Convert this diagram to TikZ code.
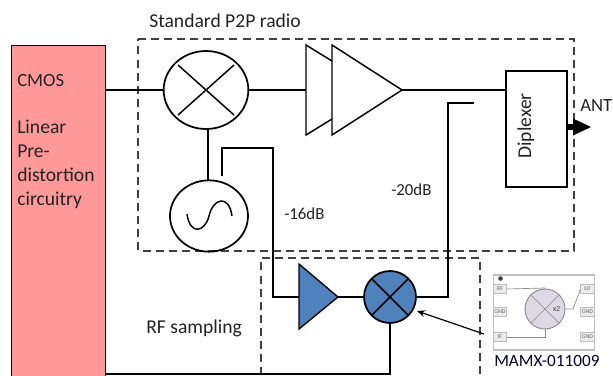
\documentclass[tikz,border=0pt]{standalone}
\usepackage{fontspec}
\setmainfont{Carlito}
\usetikzlibrary{shapes.geometric,arrows.meta}
\definecolor{txt}{HTML}{222222}
\definecolor{redbox}{HTML}{FF9999}
\definecolor{blueblk}{HTML}{4F81BD}
\definecolor{chipgray}{HTML}{BFBFBF}
\definecolor{chipfill}{HTML}{DDD8E4}
\definecolor{chipline}{HTML}{8C8C8C}
\tikzset{
  x=0.75pt,y=-0.75pt,
  wire/.style={draw=black,line width=1.5pt},
  thinw/.style={draw=black,line width=1.1pt},
  dashbox/.style={draw=black!75,line width=1.3pt,dash pattern=on 6pt off 3.8pt},
  lbl/.style={text=txt,font=\fontsize{14.7}{16}\selectfont,inner sep=0pt},
  lleft/.style={lbl,anchor=west},
  dblbl/.style={lleft,font=\fontsize{12.6}{14}\selectfont},
  mixer/.style={ellipse,draw=black,line width=1.3pt,inner sep=0pt},
  pad/.style={draw=chipgray,fill=black!8,line width=0.6pt,minimum width=10pt,minimum height=7pt,inner sep=0pt,text=black!60,font=\fontsize{4.4}{5}\selectfont},
  chipw/.style={draw=chipline,line width=0.5pt},
}
\begin{document}
\begin{tikzpicture}
\useasboundingbox (0,0) rectangle (613,375);
% left block
\node[draw=black,fill=redbox,line width=1pt,minimum width=70.5pt,minimum height=248pt,inner sep=0pt,anchor=north west] (cmos) at (11,45) {};
\node[lleft,font=\fontsize{14}{16}\selectfont] (tcmos) at (17,81) {CMOS};
\node[lleft] (t1) at (17,127) {Linear};
\node[lleft] (t2) at (17,151) {Pre-};
\node[lleft] (t3) at (17,175) {distortion};
\node[lleft] (t4) at (17,200) {circuitry};
% dashed regions
\draw[dashbox] (138,39) -- (574,39) -- (574,251) -- (138,251) -- cycle;
\draw[dashbox] (261,375) -- (261,258) -- (480,258) -- (480,375);
\node[lleft] (tstd) at (149,21) {Standard P2P radio};
\node[lleft] (trf) at (146,328) {RF sampling};
\node[dblbl] (t16) at (284,214) {-16dB};
\node[dblbl] (t20) at (391,190) {-20dB};
% mixer
\node[mixer,minimum width=63.5pt,minimum height=58.5pt] (mix) at (206,90) {};
\draw[thinw] (178,65) -- (234,115) (178,115) -- (234,65);
% oscillator
\node[mixer,minimum width=58.5pt,minimum height=53.5pt] (osc) at (209,216) {};
\draw[thinw] (187,214) .. controls (190,236) and (205,232) .. (209,216) .. controls (213,198) and (229,194) .. (232,216);
% PA pair
\coordinate (painb) at (306,90);
\coordinate (patip) at (402,90);
\draw[thinw,line join=miter] (332,61) -- (306,45) -- (306,135) -- (332,119);
\draw[thinw,line join=miter] (332,45) -- (402,90) -- (332,135) -- cycle;
% diplexer
\node[draw=black,line width=1.1pt,minimum width=45.5pt,minimum height=87pt,inner sep=0pt] (dip) at (536.5,129) {};
\node[lbl,rotate=90] (tdip) at (526,126) {Diplexer};
\coordinate (dipin) at (506,90);
\coordinate (antout) at (574,127);
\coordinate (anttip) at (591,127);
\node[lleft,font=\fontsize{14}{16}\selectfont] (tant) at (580,106) {ANT};
% sampling path
\node[mixer,fill=blueblk,minimum width=39pt,minimum height=39pt] (bmix) at (390,297) {};
\draw[thinw] (372,279) -- (408,315) (372,315) -- (408,279);
\coordinate (bain) at (299,297);
\coordinate (batip) at (338,297);
\draw[line width=1pt,draw=black,fill=blueblk,line join=miter] (299,264) -- (338,297) -- (299,329) -- cycle;
% connectors
\draw[wire] (105,90) -- (mix);
\draw[wire] (mix) -- (painb);
\draw[wire] (patip) -- (dipin);
\draw[wire] (208,129) -- (208,180);
\draw[wire,line join=miter] (222,176) -- (222,148) -- (273,148) -- (273,297) -- (bain);
\draw[wire] (batip) -- (bmix);
\draw[wire,line join=miter] (bmix) -- (448,297) -- (448,103) -- (474,103);
\draw[wire,line join=miter] (105,373.5) -- (390,373.5) -- (bmix);
\draw[draw=black,line width=4pt] (dip.east |- antout) -- (antout);
\fill[black] (573,118.5) -- (591,127) -- (573,135.5) -- cycle;
% chip
\node[draw=chipgray,fill=white,line width=1.2pt,minimum width=76pt,minimum height=56pt,inner sep=0pt] (chip) at (544,312.5) {};
\fill[black!75] (500.5,278.5) circle (2.3);
\node[pad] (prf) at (500,289) {RF};
\node[pad] (pg1) at (500,312) {GND};
\node[pad] (pif) at (500,337) {IF};
\node[pad] (plo) at (587.5,289) {LO};
\node[pad] (pg2) at (587.5,312) {GND};
\node[pad] (pg3) at (587.5,337) {GND};
\node[circle,draw=chipline,fill=chipfill,line width=0.7pt,minimum size=30pt,inner sep=0pt] (cc) at (545,309) {};
\draw[chipw] (531,295) -- (559,323) (531,323) -- (559,295);
\node[fill=chipfill,text=black!70,font=\fontsize{6}{6}\selectfont,inner sep=0.5pt] (tx2) at (556.5,309) {x2};
\draw[chipw] (prf.east) -- (545,288) -- (cc.north);
\draw[chipw] (pif.east) -- (545,337) -- (cc.south);
\draw[chipw] (plo.west) -- (573,309) -- (cc.east);
\node[lleft,font=\fontsize{12.9}{14}\selectfont,text=black!80!blue] (tmamx) at (494,361) {MAMX-011009};
% pointer
\draw[line width=0.9pt,draw=black,-{Stealth[length=6pt,width=5pt]}] (484,334) -- (417,311);
\end{tikzpicture}
\end{document}
